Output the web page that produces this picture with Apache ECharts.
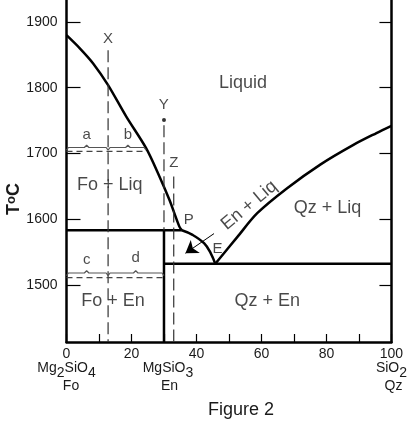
<!DOCTYPE html>
<html><head><meta charset="utf-8">
<script src="https://cdn.jsdelivr.net/npm/echarts@6/dist/echarts.min.js"></script>
<style>html,body{margin:0;padding:0;background:#fff}#c{width:410px;height:422px}</style>
</head><body><div id="c"></div>
<script>
// ---- data (composition wt% SiO2, temperature °C) ----
const xLabelValues = [0, 20, 40, 60, 80, 100];
const yTickValues = [1500, 1600, 1700, 1800, 1900];
const compoundX = [0, 30, 100];            // Fo, En, Qz
const liquidusFo = [[0,1880],[4.1,1860],[8.2,1837],[12.8,1804],[18.4,1756],[24.5,1708],[28.6,1665],[31.7,1629],[34.7,1589],[35.5,1583]];
const curvePE = [[35.5,1583],[38.8,1576],[42.4,1563],[44.4,1548],[45.8,1532]];
const liquidusQz = [[45.8,1532],[52.6,1573],[58.7,1609],[67.9,1647],[78.1,1683],[88.3,1713],[95.4,1731],[100,1742]];
const peritecticT = 1583;
const eutecticT = 1532;
const enX = 30;
const tMin = 1413, tMax = 1933.5;
const isoX = [12.8, 1857];   // bulk X: composition, top of dashed line
const isoY = [30, 1743];     // bulk Y
const pointY = [30, 1751];
const isoZ = [33, 1665];
const tieUpper = [0, 24.5, 1703];   // dashed isotherm x0,x1,T
const tieLower = [0, 30, 1511];
const bracesUpper = [[0,12.8,6.2],[12.8,24.5,18.9]]; // a, b
const bracesLower = [[0,12.8,6.2],[12.8,30,21.3]];   // c, d
const braceUpperT = 1709, braceLowerT = 1518;
const arrowFrom = [45.4,1578], arrowTo = [36.6,1548];
const regionLabels = [
  ['Liquid',54.3,1807],['Fo + Liq',13.3,1652],['Qz + Liq',80.3,1617],
  ['Fo + En',14.3,1475],['Qz + En',61.8,1475]
];
const pointLabels = [
  ['P',37.6,1599],['E',46.5,1554],['X',12.8,1875],['Y',29.9,1774],['Z',33.0,1685],
  ['a',6.2,1729],['b',18.9,1729],['c',6.2,1538],['d',21.3,1541]
];
const compoundNames = [
  '{m|Mg}{s|2}{m|SiO}{s|4}\n{fo|Fo}',
  '{p|MgSiO}{s|3}\n{en|En}',
  '{m|SiO}{s|2}\n{qz|Qz}'
];

// ---- chart ----
const FONT = "'Liberation Sans', Arial, sans-serif";
const TXT = '#1a1a1a';
function brace(b, T) {
  const [x0, x1, xm] = b;
  return [[x0,T-4],[x0+0.6,T],[xm-0.7,T],[xm,T+3.5],[xm+0.7,T],[x1-0.6,T],[x1,T-4]];
}
function lineS(data, style, extra) {
  return Object.assign({type:'line', data, symbol:'none', clip:false, silent:true,
    lineStyle:style, animation:false, z:3}, extra||{});
}
const solid = {color:'#000', width:2.5};
const dashV = {color:'#333', width:1.2, type:[12,5]};
const dashH = {color:'#444', width:1.2, type:[6,4]};
const braceSt = {color:'#555', width:1.2};

const series = [
  lineS(liquidusFo, solid, {smooth:0.3}),
  lineS(curvePE, solid, {smooth:0.4}),
  lineS(liquidusQz, solid, {smooth:0.3}),
  lineS([[0,peritecticT],[curvePE[0][0],peritecticT]], solid),
  lineS([[enX,eutecticT],[100,eutecticT]], solid),
  lineS([[enX,peritecticT],[enX,tMin]], solid),
  lineS([[isoX[0],isoX[1]],[isoX[0],tMin]], dashV),
  lineS([[isoY[0],isoY[1]],[isoY[0],peritecticT]], dashV),
  lineS([[isoZ[0],isoZ[1]],[isoZ[0],tMin]], dashV),
  lineS([[tieUpper[0],tieUpper[2]],[tieUpper[1],tieUpper[2]]], dashH),
  lineS([[tieLower[0],tieLower[2]],[tieLower[1],tieLower[2]]], dashH),
  ...bracesUpper.map(b => lineS(brace(b, braceUpperT), braceSt)),
  ...bracesLower.map(b => lineS(brace(b, braceLowerT), braceSt)),
  {type:'line', data:[], symbol:'none', silent:true, animation:false,
    markLine:{silent:true, animation:false, symbol:['none','arrow'], symbolSize:12,
      label:{show:false}, itemStyle:{color:'#000'}, lineStyle:{color:'#000', width:1, type:'solid'},
      data:[[{coord:arrowFrom},{coord:arrowTo}]]}},
  {type:'scatter', data:[pointY], symbolSize:4, itemStyle:{color:'#000'}, silent:true, animation:false},
  {type:'scatter', silent:true, animation:false, symbolSize:0,
    data: regionLabels.map(r => ({name:r[0], value:[r[1],r[2]]})),
    label:{show:true, position:'inside', formatter:'{b}', fontSize:18, color:TXT, fontFamily:FONT}},
  {type:'scatter', silent:true, animation:false, symbolSize:0,
    data: pointLabels.map(r => ({name:r[0], value:[r[1],r[2]]})),
    label:{show:true, position:'inside', formatter:'{b}', fontSize:15, color:TXT, fontFamily:FONT}},
  {type:'scatter', silent:true, animation:false, symbolSize:0,
    data: [{name:'En + Liq', value:[56.2,1621]}],
    label:{show:true, position:'inside', formatter:'{b}', fontSize:18, rotate:40, color:TXT, fontFamily:FONT}}
];

function rs(extra) {
  return Object.assign({fontSize:14, lineHeight:18, verticalAlign:'top', color:TXT, fontFamily:FONT}, extra||{});
}
const rsub = {
  m: rs(), p: rs({padding:[0,0,0,8]}), s: rs({padding:[5,0,0,0]}),
  fo: rs({padding:[0,0,0,9]}), en: rs({padding:[0,0,0,11]}), qz: rs({padding:[0,0,0,4]})
};

const chart = echarts.init(document.getElementById('c'), null, {renderer:'canvas'});
chart.setOption({
  animation:false,
  backgroundColor:'#fff',
  grid:{left:66.5, right:16.7, top:0, bottom:80, containLabel:false},
  xAxis:[
    {type:'value', min:0, max:100, interval:10, position:'bottom',
      axisLine:{show:true, onZero:false, lineStyle:{color:'#000', width:2.5}},
      axisTick:{show:true, inside:true, length:8, lineStyle:{color:'#000', width:1.2}},
      axisLabel:{customValues:xLabelValues, margin:5, fontSize:14, color:TXT, fontFamily:FONT,
        formatter:(v)=>String(v)},
      splitLine:{show:false}},
    {type:'value', min:0, max:100, position:'bottom',
      axisLine:{show:false}, axisTick:{show:false}, splitLine:{show:false},
      axisLabel:{customValues:compoundX, margin:19,
        formatter:(v)=>compoundNames[compoundX.indexOf(v)], rich:rsub}}
  ],
  yAxis:[
    {type:'value', min:tMin, max:tMax, position:'left',
      axisLine:{show:true, onZero:false, lineStyle:{color:'#000', width:2.5}},
      axisTick:{show:true, inside:true, length:14, customValues:yTickValues, lineStyle:{color:'#000', width:1.2}},
      axisLabel:{customValues:yTickValues, margin:9, fontSize:14, color:TXT, fontFamily:FONT,
        formatter:(v)=>String(v)},
      splitLine:{show:false}},
    {type:'value', min:tMin, max:tMax, position:'right',
      axisLine:{show:true, onZero:false, lineStyle:{color:'#000', width:2.5}},
      axisTick:{show:true, inside:true, length:12, customValues:yTickValues, lineStyle:{color:'#000', width:1.2}},
      axisLabel:{show:false}, splitLine:{show:false}}
  ],
  graphic:[
    {type:'text', x:14, y:199, rotation:Math.PI/2, silent:true,
      style:{text:'{t|T}{o|o}{t|C}', align:'center', verticalAlign:'middle',
        rich:{t:{fontSize:18, fontWeight:'bold', lineHeight:18, verticalAlign:'top', fill:TXT, fontFamily:FONT},
              o:{fontSize:13, fontWeight:'bold', lineHeight:13, verticalAlign:'top', fill:TXT, fontFamily:FONT}}}},
    {type:'text', x:241, y:410, silent:true,
      style:{text:'Figure 2', align:'center', verticalAlign:'middle', fontSize:18, fontFamily:FONT, fill:TXT}}
  ],
  series
});
</script></body></html>
